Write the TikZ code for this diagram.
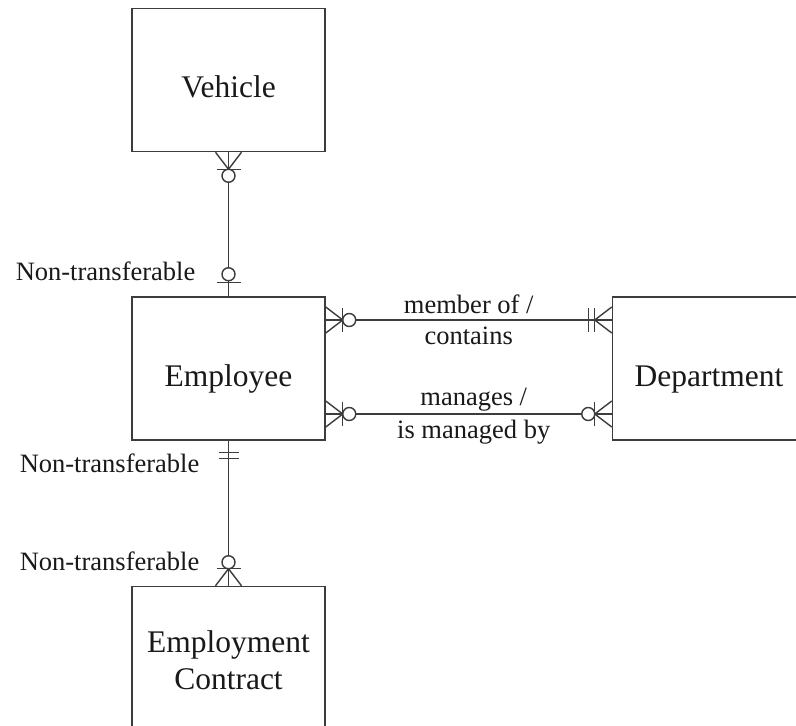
\documentclass[tikz,border=0pt]{standalone}
\usepackage{fontspec}
\setmainfont{Liberation Serif}
\usetikzlibrary{positioning, calc}
\definecolor{linegray}{RGB}{60,60,60}
\definecolor{textdark}{RGB}{25,25,25}

\tikzset{
  entity/.style={draw=linegray, line width=1.5pt, minimum width=193pt, minimum height=143pt, inner sep=0pt},
  entitytext/.style={font=\fontsize{31.5}{38}\selectfont, text=textdark, text height=22pt, text depth=7pt, yshift=-10pt},
  reltext/.style={font=\fontsize{26.5}{31}\selectfont, text=textdark, align=center, inner sep=0pt},
  relline/.style={draw=linegray, line width=1.4pt},
  % crow's foot ends, drawn outward from the box edge along +x
  zeromany/.pic={
    \draw[relline] (0pt,13pt) -- (17pt,0pt) -- (0pt,-13pt);
    \draw[relline] (17pt,12pt) -- (17pt,-12pt);
    \draw[relline, fill=white] (23.5pt,0pt) circle[radius=6.5pt];
  },
  zeroone/.pic={
    \draw[relline] (14pt,12pt) -- (14pt,-12pt);
    \draw[relline, fill=white] (22pt,0pt) circle[radius=6.5pt];
  },
  onemany/.pic={
    \draw[relline] (0pt,13pt) -- (17pt,0pt) -- (0pt,-13pt);
    \draw[relline] (17pt,12pt) -- (17pt,-12pt);
    \draw[relline] (23pt,12pt) -- (23pt,-12pt);
  },
  oneone/.pic={
    \draw[relline] (12pt,10pt) -- (12pt,-10pt);
    \draw[relline] (18pt,10pt) -- (18pt,-10pt);
  },
}

\begin{document}
\begin{tikzpicture}[x=1pt, y=-1pt]
  \useasboundingbox (0,0) rectangle (796,726);

  % entities
  \node[entity, label={[entitytext]center:Employee}] (employee) at (228.5,368.5) {};
  \node[entity, above=144pt of employee, label={[entitytext]center:Vehicle}] (vehicle) {};
  \node[entity, right=286pt of employee, label={[entitytext]center:Department}] (department) {};
  \node[entity, below=145pt of employee,
        label={[font=\fontsize{31.5}{37}\selectfont, text=textdark, align=center, yshift=-2pt]center:Employment\\Contract}] (contract) {};

  % relationship lines
  \coordinate (memberE) at ([yshift=48.5pt]employee.east);
  \coordinate (memberD) at (memberE -| department.west);
  \coordinate (manageE) at ([yshift=-45.5pt]employee.east);
  \coordinate (manageD) at (manageE -| department.west);

  \draw[relline] (vehicle.south) -- (employee.north);
  \draw[relline] (memberE) -- (memberD);
  \draw[relline] (manageE) -- (manageD);
  \draw[relline] (employee.south) -- (contract.north);

  % ends
  \pic[rotate=-90] at (vehicle.south) {zeromany};
  \pic[rotate=90] at (employee.north) {zeroone};
  \pic at (memberE) {zeromany};
  \pic[rotate=180] at (memberD) {onemany};
  \pic at (manageE) {zeromany};
  \pic[rotate=180] at (manageD) {zeromany};
  \pic[rotate=-90] at (employee.south) {oneone};
  \pic[rotate=90] at (contract.north) {zeromany};

  % labels
  \node[reltext, anchor=east] (ntVehicle) at ([xshift=-33pt, yshift=25pt]employee.north) {Non-transferable};
  \node[reltext, anchor=east] (ntEmployee) at ([xshift=-29pt, yshift=-23pt]employee.south) {Non-transferable};
  \node[reltext, anchor=east] (ntContract) at ([xshift=-29pt, yshift=24pt]contract.north) {Non-transferable};
  \node[reltext] (memberLbl) at ($(memberE)!0.5!(memberD)$) {member of /\\contains};
  \node[reltext, font=\fontsize{26.5}{33}\selectfont] (manageLbl) at ([xshift=5pt, yshift=-2pt]$(manageE)!0.5!(manageD)$) {manages /\\is managed by};
\end{tikzpicture}
\end{document}
